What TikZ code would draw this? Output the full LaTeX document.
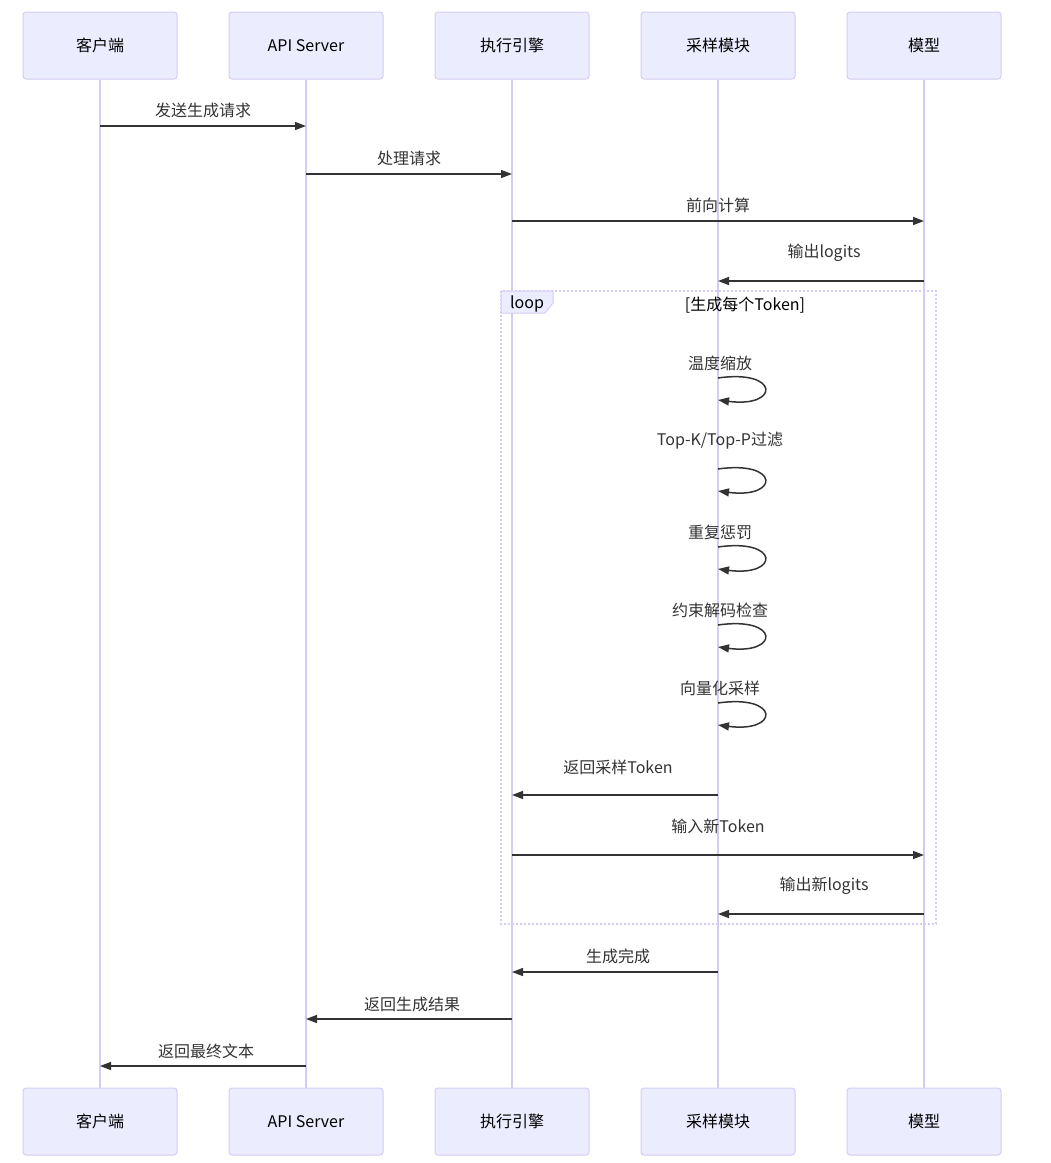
\documentclass[tikz,border=0pt]{standalone}
\usepackage{fontspec}
\setmainfont{Noto Sans CJK SC}
\usetikzlibrary{arrows.meta}
\definecolor{actfill}{HTML}{ECECFF}
\definecolor{actline}{HTML}{D6CCF3}
\definecolor{txt}{HTML}{333333}
\tikzset{
  actor/.style={draw=actline, fill=actfill, line width=1pt, rounded corners=3pt,
    minimum width=154pt, minimum height=67pt, inner sep=0pt,
    font=\fontsize{16}{18}\selectfont, text=black},
  life/.style={draw=actline, line width=1.5pt},
  msg/.style={draw=txt, line width=1.5pt, -{Triangle[length=11pt,width=8pt]}},
  lbl/.style={font=\fontsize{16}{18}\selectfont, text=txt, inner sep=0pt},
  loopbox/.style={draw=actline, line width=1.6pt, dash pattern=on 2pt off 2pt},
}
\begin{document}
\begin{tikzpicture}[x=1pt,y=-1pt]
\useasboundingbox (0,0) rectangle (1051,1163);
% participants
\foreach \n/\x/\t in {1/100/客户端,2/306/API Server,3/512/执行引擎,4/718/采样模块,5/924/模型}{
  \node[actor] (a\n) at (\x,45.5) {\t};
  \node[actor] (b\n) at (\x,1121.5) {\t};
  \draw[life] (a\n.south) -- (b\n.north);
}
% loop frame
\draw[loopbox] (501,291) rectangle (936,924);
\path[fill=actfill, draw=actline, line width=1pt] (501,291) -- (553,291) -- (553,303) -- (545,313) -- (501,313) -- cycle;
\node[lbl, text=black] (looplbl) at (527,304) {loop};
\node[lbl, text=black] (loopcond) at (745,305) {[生成每个Token]};
% y levels
\foreach \i/\y in {1/126,2/174,3/221,4/281,5/795,6/855,7/914,8/972,9/1019,10/1066}{
  \coordinate (y\i) at (0,\y);
}
% messages
\draw[msg] (a1 |- y1) -- (a2 |- y1);
\node[lbl] (l1) at (203,110) {发送生成请求};
\draw[msg] (a2 |- y2) -- (a3 |- y2);
\node[lbl] (l2) at (409,158) {处理请求};
\draw[msg] (a3 |- y3) -- (a5 |- y3);
\node[lbl] (l3) at (718,205) {前向计算};
\draw[msg] (a5 |- y4) -- (a4 |- y4);
\node[lbl] (l4) at (824,253) {输出logits};
% self loops
\foreach \ly/\sy/\t in {363/378/{温度缩放},441/469/{Top-K/Top-P过滤},532/547/{重复惩罚},610/625/{约束解码检查},688/703/{向量化采样}}{
  \node[lbl] at (720,\ly) {\t};
  \draw[msg] (a4 |- 0,\sy) .. controls +(62,-9) and +(62,8) .. ([yshift=-22pt]a4 |- 0,\sy);
}
\draw[msg] (a4 |- y5) -- (a3 |- y5);
\node[lbl] (l5) at (618,767) {返回采样Token};
\draw[msg] (a3 |- y6) -- (a5 |- y6);
\node[lbl] (l6) at (718,826) {输入新Token};
\draw[msg] (a5 |- y7) -- (a4 |- y7);
\node[lbl] (l7) at (824,886) {输出新logits};
\draw[msg] (a4 |- y8) -- (a3 |- y8);
\node[lbl] (l8) at (618,956) {生成完成};
\draw[msg] (a3 |- y9) -- (a2 |- y9);
\node[lbl] (l9) at (412,1004) {返回生成结果};
\draw[msg] (a2 |- y10) -- (a1 |- y10);
\node[lbl] (l10) at (206,1051) {返回最终文本};
\end{tikzpicture}
\end{document}
